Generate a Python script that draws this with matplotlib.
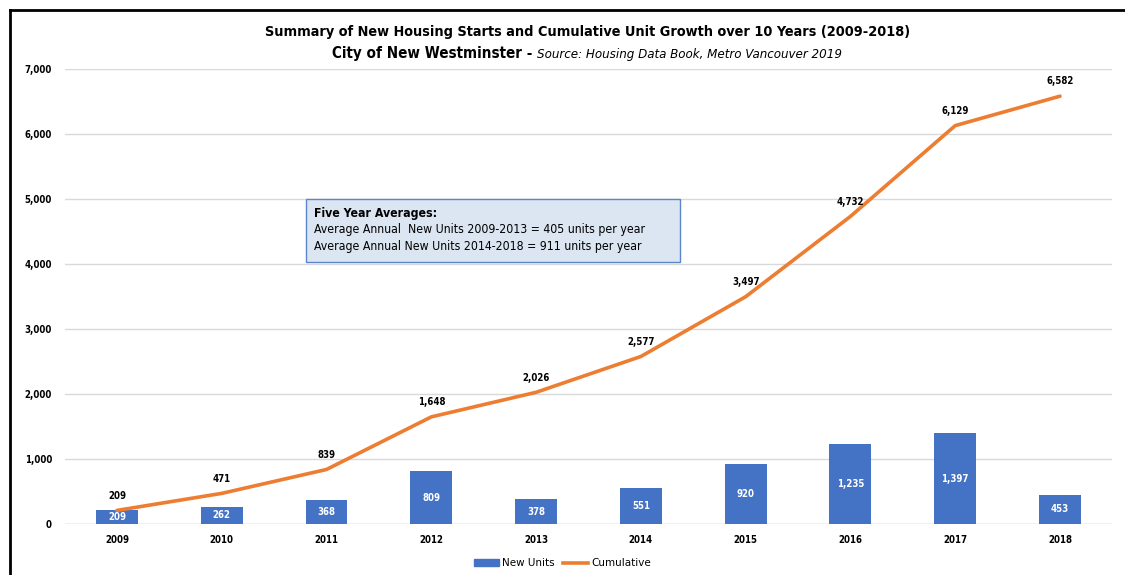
import numpy as np
import matplotlib.pyplot as plt
from matplotlib.lines import Line2D
from matplotlib.patches import Patch

years = ['2009', '2010', '2011', '2012', '2013', '2014', '2015', '2016', '2017', '2018']
new_units = [209, 262, 368, 809, 378, 551, 920, 1235, 1397, 453]
cumulative = [209, 471, 839, 1648, 2026, 2577, 3497, 4732, 6129, 6582]

box_lines = ['Average Annual  New Units 2009-2013 = 405 units per year',
             'Average Annual New Units 2014-2018 = 911 units per year']

plt.rcParams['font.family'] = ['DejaVu Sans']
plt.rcParams['font.stretch'] = 'condensed'

blue = '#4472C4'
orange = '#ED7D31'

fig = plt.figure(figsize=(11.25, 5.75), dpi=100)
ax = fig.add_axes([0.0574, 0.0887, 0.9314, 0.7913])

x = np.arange(len(years))
ax.bar(x, new_units, width=0.4, color=blue, zorder=2)
ax.plot(x, cumulative, color=orange, lw=2.6, zorder=3, solid_capstyle='round')

fs = 6.9
for xi, v in zip(x, new_units):
    ax.text(xi, v / 2, f'{v:,}', color='white', ha='center', va='center',
            fontsize=fs, fontweight='bold', zorder=4)
for xi, v in zip(x, cumulative):
    ax.annotate(f'{v:,}', (xi, v), xytext=(0, 7), textcoords='offset points',
                ha='center', va='bottom', fontsize=fs, fontweight='bold', zorder=4)

ax.set_xlim(-0.5, len(years) - 0.5)
ax.set_ylim(0, 7000)
ax.set_yticks(range(0, 7001, 1000))
ax.set_yticklabels([f'{t:,}' for t in range(0, 7001, 1000)])
ax.set_xticks(x)
ax.set_xticklabels(years)
for lab in ax.get_xticklabels() + ax.get_yticklabels():
    lab.set_fontweight('bold')
    lab.set_fontsize(fs)
ax.tick_params(length=0, pad=8)
ax.tick_params(axis='y', pad=9)
ax.grid(axis='y', color='#d9d9d9', lw=1, zorder=0)
for s in ax.spines.values():
    s.set_visible(False)
ax.axhline(0, color='#d9d9d9', lw=1, zorder=1)

# title
fig.text(0.522, 0.945, 'Summary of New Housing Starts and Cumulative Unit Growth over 10 Years (2009-2018)',
         ha='center', va='center', fontsize=10.4, fontweight='bold')
t1 = fig.text(0.0, 0.0, 'City of New Westminster - ', fontsize=10.9, fontweight='bold')
t2 = fig.text(0.0, 0.0, 'Source: Housing Data Book, Metro Vancouver 2019', fontsize=9.5,
              style='italic')
fig.canvas.draw()
r = fig.canvas.get_renderer()
w1 = t1.get_window_extent(r).width / fig.bbox.width
w2 = t2.get_window_extent(r).width / fig.bbox.width
x0 = 0.522 - (w1 + w2) / 2
t1.set_position((x0, 0.899))
t2.set_position((x0 + w1, 0.899))

# text box
fig.patches.append(plt.Rectangle((306 / 1125, 1 - 262 / 575), 374 / 1125, 63 / 575,
                                 transform=fig.transFigure, facecolor='#dce6f2',
                                 edgecolor='#5b86c9', lw=1, zorder=5))
fig.text(314 / 1125, 1 - 213 / 575, 'Five Year Averages:', fontsize=8.8, fontweight='bold',
         va='center', zorder=6)
fig.text(314 / 1125, 1 - 230 / 575, box_lines[0], fontsize=8.8, va='center', zorder=6)
fig.text(314 / 1125, 1 - 247 / 575, box_lines[1], fontsize=8.8, va='center', zorder=6)

handles = [Patch(color=blue, label='New Units'),
           Line2D([], [], color=orange, lw=2.6, label='Cumulative')]
fig.legend(handles=handles, loc='center', bbox_to_anchor=(0.5, 1 - 563 / 575), ncol=2,
           frameon=False, prop={'size': 7.5, 'stretch': 'normal'}, handlelength=2.4,
           handleheight=0.6, columnspacing=0.8, handletextpad=0.3)

# outer border
fig.add_artist(Line2D([9.5 / 1125, 1], [1 - 9.5 / 575, 1 - 9.5 / 575], color='black', lw=2,
                      transform=fig.transFigure))
fig.add_artist(Line2D([9.5 / 1125, 9.5 / 1125], [0, 1 - 9.5 / 575], color='black', lw=2,
                      transform=fig.transFigure))

fig.savefig('out.png', dpi=100)
